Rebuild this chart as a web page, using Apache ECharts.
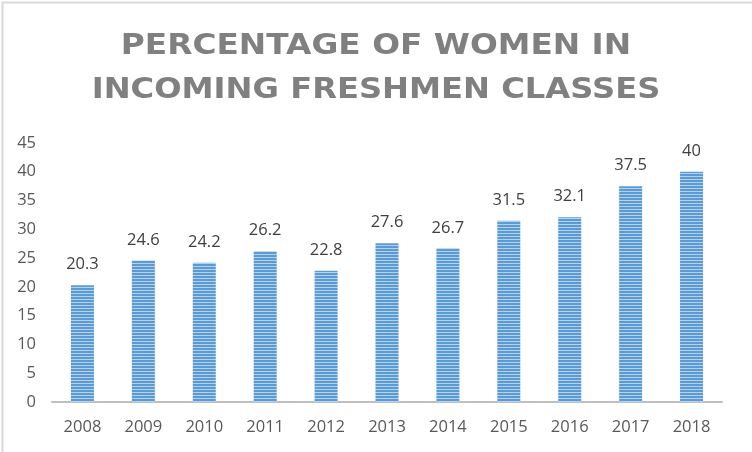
<!DOCTYPE html>
<html><head><meta charset="utf-8">
<script src="https://cdn.jsdelivr.net/npm/echarts@6/dist/echarts.min.js"></script>
<style>html,body{margin:0;padding:0;background:#fff}#c{width:752px;height:452px}</style>
</head><body><div id="c"></div>
<script>
const categories = ['2008','2009','2010','2011','2012','2013','2014','2015','2016','2017','2018'];
const values = [20.3, 24.6, 24.2, 26.2, 22.8, 27.6, 26.7, 31.5, 32.1, 37.5, 40];
const titleLines = ['PERCENTAGE OF WOMEN IN', 'INCOMING FRESHMEN CLASSES'];

const pc = document.createElement('canvas');
pc.width = 4; pc.height = 3;
const g = pc.getContext('2d');
g.fillStyle = '#5B9BD5'; g.fillRect(0,0,4,2);
g.fillStyle = '#B4D2EE'; g.fillRect(0,2,4,1);

const titleFont = 'bold 29px "DejaVu Sans"';
const chart = echarts.init(document.getElementById('c'), null, {renderer:'canvas'});
chart.setOption({
  animation: false,
  graphic: [
    {type:'rect', left:0, top:0, shape:{width:751, height:451}, style:{fill:'none', stroke:'#d9d9d9', lineWidth:2}, silent:true},
    {type:'text', x:376, y:46, scaleX:1.13, originX:0, originY:0,
     style:{text:titleLines[0], font:titleFont, fill:'#808080', textAlign:'center', textVerticalAlign:'middle'}},
    {type:'text', x:376, y:90, scaleX:1.11, originX:0, originY:0,
     style:{text:titleLines[1], font:titleFont, fill:'#808080', textAlign:'center', textVerticalAlign:'middle'}}
  ],
  grid: {left: 52, right: 30, top: 143, bottom: 50},
  xAxis: {
    type: 'category', data: categories,
    axisLine: {lineStyle: {color: '#bfbfbf', width: 2}},
    axisTick: {show: false},
    axisLabel: {color: '#595959', fontSize: 16.5, fontFamily: 'Open Sans', margin: 17}
  },
  yAxis: {
    type: 'value', min: 0, max: 45, interval: 5,
    axisLine: {show: false}, axisTick: {show: false},
    splitLine: {show: false},
    axisLabel: {color: '#595959', fontSize: 16.5, fontFamily: 'Open Sans', margin: 16}
  },
  series: [{
    type: 'bar', data: values, barWidth: 23,
    itemStyle: {color: {image: pc, repeat: 'repeat'}},
    label: {show: true, position: 'top', distance: 12, color: '#404040', fontSize: 16.5, fontFamily: 'Open Sans'}
  }]
});
</script></body></html>
